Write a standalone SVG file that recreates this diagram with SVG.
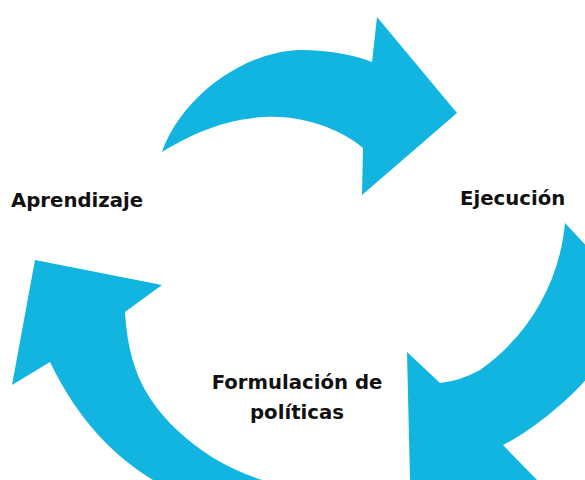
<svg xmlns="http://www.w3.org/2000/svg" width="585" height="480" viewBox="0 0 585 480">
<style>
.arr{fill:#12b5e0;stroke:none}
.lbl{font-family:"DejaVu Sans","Liberation Sans",sans-serif;font-weight:bold;font-size:19.7px;fill:#111}
</style>
<rect width="585" height="480" fill="#fff"/>
<g id="connectors">
<path id="arrow-top" class="arr" d="M162,152 C180,100 240,52 300,50 C330,50 355,55 372,62 L377,17 L457,113 L362,195 L363,148 C340,128 300,115 265,117 C220,119 185,138 162,152 Z"/>
<path id="arrow-right" class="arr" d="M565,223 C560,280 530,335 480,370 Q460,381 440,383 L407,352 L410,480 L537,480 L503,445 C520,437 560,410 590,375 L590,250 Z"/>
<path id="arrow-left" class="arr" d="M35,260 L162,285 L125,312 C128,360 140,395 177,430 C200,452 230,470 262,480 L153,480 C120,460 80,425 50,362 L12,385 Z"/>
</g>
<g id="aprendizaje"><text class="lbl" x="11" y="207">Aprendizaje</text></g>
<g id="ejecucion"><text class="lbl" x="460" y="205">Ejecución</text></g>
<g id="formulacion"><text class="lbl" x="297" y="389" text-anchor="middle">Formulación de</text><text class="lbl" x="297" y="419" text-anchor="middle">políticas</text></g>
</svg>
